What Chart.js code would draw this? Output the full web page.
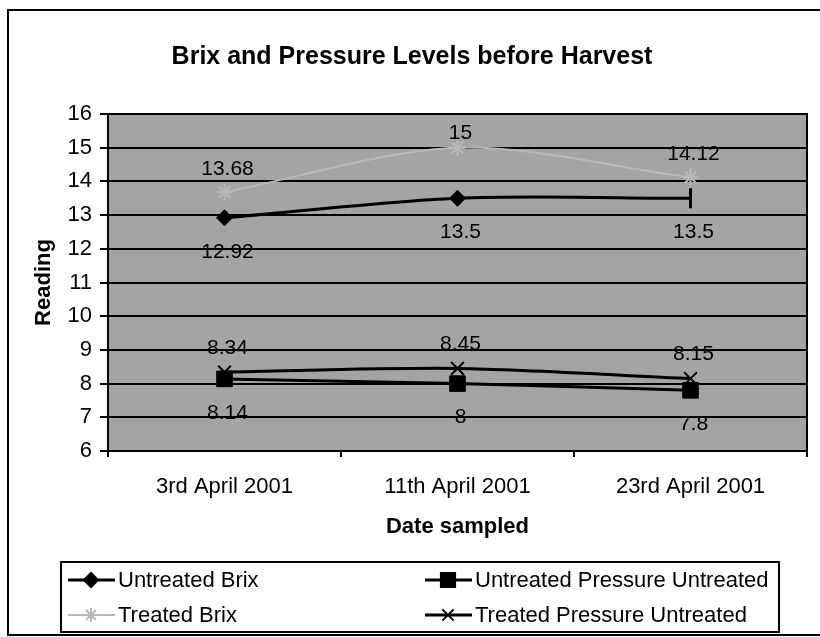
<!DOCTYPE html>
<html>
<head>
<meta charset="utf-8">
<title>Brix and Pressure Levels before Harvest</title>
<script src="https://cdn.jsdelivr.net/npm/chart.js@4.4.0/dist/chart.umd.min.js"></script>
<style>
  html, body { margin: 0; padding: 0; background: #fff; overflow: hidden; }
  #wrap { width: 820px; height: 637px; }
  canvas { display: block; }
</style>
</head>
<body>
<div id="wrap"><canvas id="chart"></canvas></div>
<script>
const dates = ['3rd April 2001', '11th April 2001', '23rd April 2001']
const untreatedBrix = [12.92, 13.5, 13.5]
const treatedBrix = [13.68, 15, 14.12]
const untreatedPressure = [8.14, 8, 7.8]
const treatedPressure = [8.34, 8.45, 8.15]
const yTicks = [6, 7, 8, 9, 10, 11, 12, 13, 14, 15, 16]

const FONT = "'Liberation Sans', Arial, sans-serif"

// where each series puts its value labels (px from the point, + is below)
const labelOffsets = [34, -23, 34, -24]
// legend slots: [column x, row y]
const legendSlots = [[68, 580], [68, 615], [425, 580], [425, 615]]

const lineData = {
  labels: dates,
  datasets: [
    {
      label: 'Untreated Brix',
      data: untreatedBrix,
      borderColor: '#000',
      backgroundColor: '#000',
      borderWidth: 3,
      pointStyle: ['rectRot', 'rectRot', 'line'],
      pointRotation: [0, 0, 90],
      pointRadius: [8, 8, 10],
      pointBorderWidth: [1, 1, 3],
      tension: 0.3
    },
    {
      label: 'Treated Brix',
      data: treatedBrix,
      borderColor: '#b9b9b9',
      backgroundColor: '#b9b9b9',
      borderWidth: 2,
      pointStyle: 'star',
      pointRadius: 8,
      pointBorderWidth: 2,
      tension: 0.3
    },
    {
      label: 'Untreated Pressure Untreated',
      data: untreatedPressure,
      borderColor: '#000',
      backgroundColor: '#000',
      borderWidth: 3,
      pointStyle: 'rect',
      pointRadius: 11,
      pointBorderWidth: 1,
      tension: 0.3
    },
    {
      label: 'Treated Pressure Untreated',
      data: treatedPressure,
      borderColor: '#000',
      backgroundColor: '#000',
      borderWidth: 3,
      pointStyle: 'crossRot',
      pointRadius: 9,
      pointBorderWidth: 2,
      tension: 0.3
    }
  ]
}

const frame = {
  id: 'frame',
  beforeDraw (chart) {
    const {ctx, chartArea: a} = chart
    ctx.save()
    ctx.fillStyle = '#fff'
    ctx.fillRect(0, 0, chart.width, chart.height)
    ctx.strokeStyle = '#000'
    ctx.lineWidth = 2
    ctx.strokeRect(8, 10, 840, 625)
    ctx.fillStyle = '#a4a4a4'
    ctx.fillRect(a.left, a.top, a.right - a.left, a.bottom - a.top)
    ctx.restore()
  },
  afterDatasetsDraw (chart) {
    const {ctx, chartArea: a} = chart
    ctx.save()
    ctx.font = '21px ' + FONT
    ctx.fillStyle = '#000'
    ctx.textAlign = 'center'
    ctx.textBaseline = 'middle'
    chart.data.datasets.forEach((ds, i) => {
      chart.getDatasetMeta(i).data.forEach((pt, j) => {
        let y = pt.y + labelOffsets[i]
        y = Math.max(y, a.top + 19)
        ctx.fillText(String(ds.data[j]), pt.x + 3, y)
      })
    })
    ctx.restore()
  },
  afterDraw (chart) {
    const {ctx, chartArea: a} = chart
    ctx.save()
    ctx.strokeStyle = '#000'
    ctx.lineWidth = 2
    ctx.strokeRect(a.left, a.top, a.right - a.left, a.bottom - a.top)

    // legend box
    ctx.strokeRect(61, 562, 718, 70)
    ctx.font = '22px ' + FONT
    ctx.textBaseline = 'middle'
    ctx.textAlign = 'left'
    chart.data.datasets.forEach((ds, i) => {
      const [x, y] = legendSlots[i]
      ctx.strokeStyle = ds.borderColor
      ctx.lineWidth = ds.borderWidth
      ctx.beginPath()
      ctx.moveTo(x, y)
      ctx.lineTo(x + 47, y)
      ctx.stroke()
      const style = Array.isArray(ds.pointStyle) ? ds.pointStyle[0] : ds.pointStyle
      const radius = Array.isArray(ds.pointRadius) ? ds.pointRadius[0] : ds.pointRadius
      ctx.fillStyle = ds.backgroundColor
      ctx.lineWidth = 2
      Chart.helpers.drawPoint(ctx, {pointStyle: style, radius: radius - 1, rotation: 0, borderWidth: 2}, x + 23, y)
      ctx.fillStyle = '#000'
      ctx.fillText(ds.label, x + 50, y + 1)
    })
    ctx.restore()
  }
}

const ctx = document.getElementById('chart')

const lineChart = new Chart(ctx, {
  type: 'line',
  data: lineData,
  plugins: [frame],
  options: {
    responsive: true,
    maintainAspectRatio: false,
    animation: false,
    devicePixelRatio: 1,
    layout: {
      padding: {left: 8, right: 4, top: 10, bottom: 75}
    },
    scales: {
      x: {
        offset: true,
        afterFit: (s) => {
          s.height = 111
          s.paddingLeft = 0
          s.paddingRight = 0
        },
        grid: {
          offset: true,
          drawOnChartArea: false,
          color: '#000',
          lineWidth: 2,
          tickLength: 6
        },
        border: {color: '#000', width: 2},
        ticks: {
          color: '#000',
          padding: 17,
          maxRotation: 0,
          font: {family: FONT, size: 22}
        },
        title: {
          display: true,
          text: 'Date sampled',
          color: '#000',
          padding: {top: 0, bottom: 22},
          font: {family: FONT, size: 22, weight: 'bold'}
        }
      },
      y: {
        min: 6,
        max: 16,
        afterFit: (s) => { s.width = 100 },
        afterBuildTicks: (s) => { s.ticks = yTicks.map(v => ({value: v})) },
        grid: {
          color: '#000',
          lineWidth: 2,
          tickLength: 8
        },
        border: {color: '#000', width: 2},
        ticks: {
          color: '#000',
          padding: 8,
          font: {family: FONT, size: 22}
        },
        title: {
          display: true,
          text: 'Reading',
          color: '#000',
          padding: {top: 23, bottom: 0},
          font: {family: FONT, size: 22, weight: 'bold'}
        }
      }
    },
    plugins: {
      legend: {display: false},
      tooltip: {enabled: false},
      title: {
        display: true,
        text: 'Brix and Pressure Levels before Harvest',
        color: '#000',
        padding: {top: 32, bottom: 42},
        font: {family: FONT, size: 25, weight: 'bold'}
      }
    }
  }
})
</script>
</body>
</html>
